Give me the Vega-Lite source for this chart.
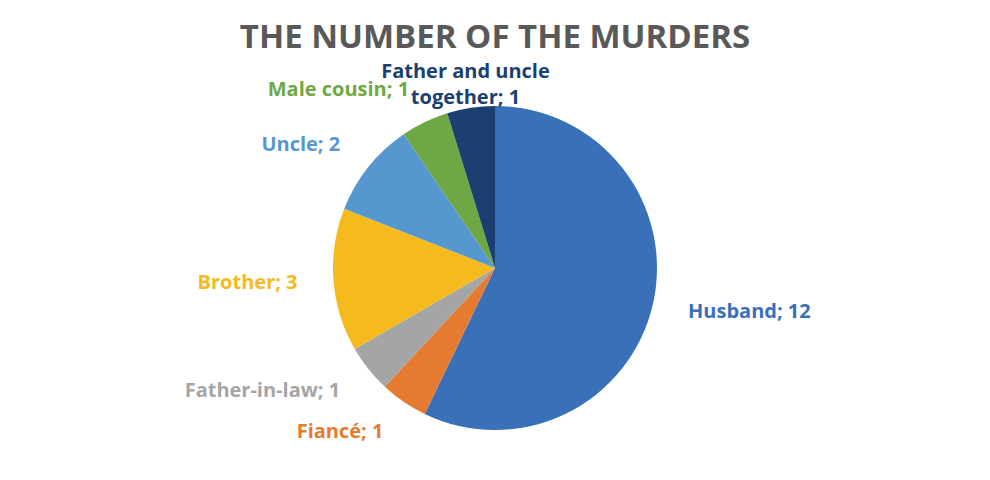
{
  "$schema": "https://vega.github.io/schema/vega-lite/v6.json",
  "width": 990,
  "height": 410,
  "autosize": "none",
  "padding": {"top": 63, "left": 0, "right": 0, "bottom": 7},
  "background": "white",
  "config": {"view": {"stroke": null}},
  "title": {
    "text": "THE NUMBER OF THE MURDERS",
    "font": "Open Sans",
    "fontSize": 33,
    "fontWeight": "bold",
    "color": "#595959",
    "anchor": "middle",
    "offset": 7
  },
  "data": {
    "values": [
      {"relation": "Husband", "count": 12, "order": 1, "label": "Husband; 12"},
      {"relation": "Fiancé", "count": 1, "order": 2, "label": "Fiancé; 1"},
      {"relation": "Father-in-law", "count": 1, "order": 3, "label": "Father-in-law; 1"},
      {"relation": "Brother", "count": 3, "order": 4, "label": "Brother; 3"},
      {"relation": "Uncle", "count": 2, "order": 5, "label": "Uncle; 2"},
      {"relation": "Male cousin", "count": 1, "order": 6, "label": "Male cousin; 1"},
      {"relation": "Father and uncle together", "count": 1, "order": 7, "label": "Father and uncle\ntogether; 1"}
    ]
  },
  "encoding": {
    "theta": {"field": "count", "type": "quantitative", "stack": true},
    "order": {"field": "order", "type": "quantitative"},
    "color": {
      "field": "relation",
      "type": "nominal",
      "legend": null,
      "scale": {
        "domain": ["Husband", "Fiancé", "Father-in-law", "Brother", "Uncle", "Male cousin", "Father and uncle together"],
        "range": ["#3A70B8", "#E57A30", "#A5A5A5", "#F4BA1E", "#5597CE", "#6EA845", "#1B3F70"]
      }
    }
  },
  "layer": [
    {"mark": {"type": "arc", "outerRadius": 162}},
    {
      "mark": {
        "type": "text",
        "radius": 198,
        "font": "Open Sans",
        "fontWeight": "bold",
        "fontSize": 20,
        "lineBreak": "\n",
        "lineHeight": 26,
        "baseline": "middle",
        "align": {"expr": "datum.relation == 'Husband' ? 'left' : (datum.relation == 'Father and uncle together' ? 'center' : 'right')"}
      },
      "encoding": {"text": {"field": "label", "type": "nominal"}}
    }
  ]
}
